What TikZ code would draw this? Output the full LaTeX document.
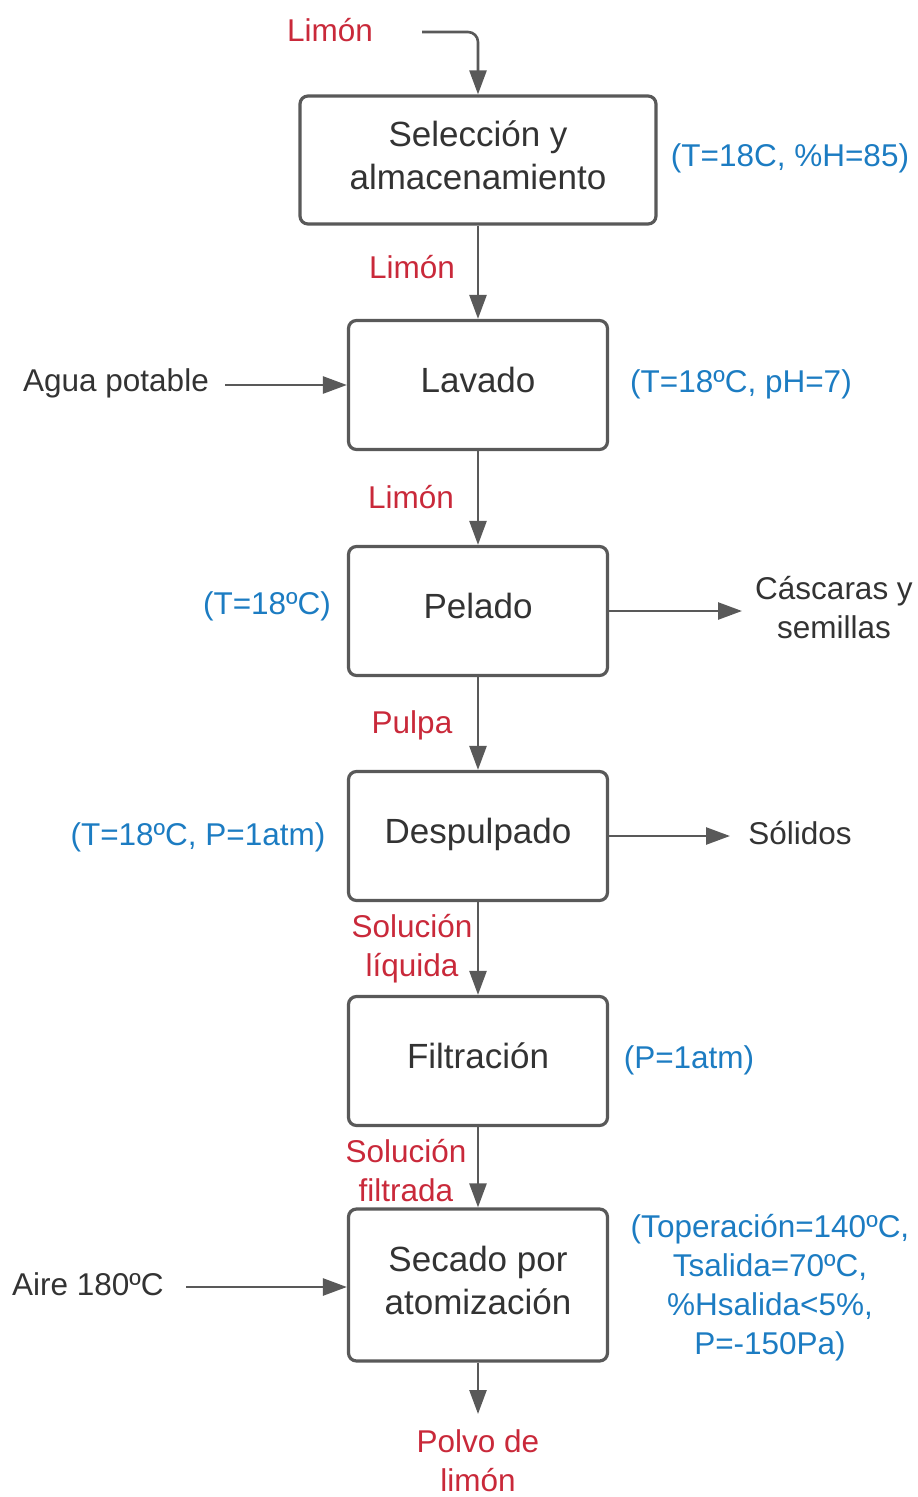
\documentclass[tikz,border=0pt]{standalone}
\usepackage{fontspec}
\setmainfont{Liberation Sans}
\usetikzlibrary{arrows.meta}
\definecolor{linegray}{HTML}{595959}
\definecolor{textgray}{HTML}{333333}
\definecolor{flowred}{HTML}{C9293A}
\definecolor{condblue}{HTML}{1C7CC2}
\begin{document}
\begin{tikzpicture}[x=1pt,y=-1pt,
  every node/.style={font=\fontsize{31.5}{39}\selectfont, inner sep=0pt, align=center},
  stage/.style={draw=linegray, line width=3.2pt, rounded corners=8pt, fill=white,
    minimum width=259pt, minimum height=129pt},
  stagetext/.style={text=textgray, font=\fontsize{35}{43}\selectfont, yshift=5pt},
  flow/.style={text=flowred, yshift=-3pt},
  cond/.style={text=condblue, yshift=-3pt},
  ext/.style={text=textgray, yshift=-3pt},
  conn/.style={draw=linegray, line width=2.6pt, -{Triangle[length=24pt,width=17pt]}}]
\useasboundingbox (0,0) rectangle (918,1497);
% process stages (box plus its caption, set slightly above centre)
\node[stage, minimum width=356pt, minimum height=128pt,
  label={[stagetext]center:Selección y\\almacenamiento}] (sel) at (478,160) {};
\node[stage, label={[stagetext]center:Lavado}] (lav) at (478,385) {};
\node[stage, label={[stagetext]center:Pelado}] (pel) at (478,611) {};
\node[stage, label={[stagetext, yshift=-3pt]center:Despulpado}] (des) at (478,836) {};
\node[stage, label={[stagetext]center:Filtración}] (fil) at (478,1061) {};
\node[stage, minimum height=152pt,
  label={[stagetext]center:Secado por\\atomización}] (sec) at (478,1285) {};
% inputs and outputs
\coordinate (in0) at (422,32);
\node[flow] (lim0) at (330,27) {Limón};
\node[ext] (agua) at (116,380) {Agua potable};
\coordinate (aguaend) at (225,385);
\node[ext] (cas) at (834,605) {Cáscaras y\\semillas};
\coordinate (casend) at (742,611);
\node[ext] (sol) at (800,830) {Sólidos};
\coordinate (solend) at (730,836);
\node[ext] (aire) at (88,1281) {Aire 180ºC};
\coordinate (aireend) at (186,1287);
\node[flow, yshift=5pt] (polvo) at (478,1463) {Polvo de\\limón};
\coordinate (polvoend) at (478,1414);
% stream labels
\node[flow] (l1) at (412,264) {Limón};
\node[flow] (l2) at (411,494) {Limón};
\node[flow] (l3) at (412,722) {Pulpa};
\node[flow] (l4) at (412,946) {Solución\\líquida};
\node[flow] (l5) at (406,1168) {Solución\\filtrada};
% operating conditions
\node[cond] (c1) at (790,155) {(T=18C, \%H=85)};
\node[cond] (c2) at (741,381) {(T=18ºC, pH=7)};
\node[cond] (c3) at (267,603) {(T=18ºC)};
\node[cond] (c4) at (198,834) {(T=18ºC, P=1atm)};
\node[cond] (c5) at (689,1057) {(P=1atm)};
\node[cond] (c6) at (770,1285) {(Toperación=140ºC,\\Tsalida=70ºC,\\\%Hsalida<5\%,\\P=-150Pa)};
% connectors
\draw[conn, rounded corners=10pt] (in0) -| (sel.north);
\draw[conn] (sel.south) -- (lav.north);
\draw[conn] (lav.south) -- (pel.north);
\draw[conn] (pel.south) -- (des.north);
\draw[conn] (des.south) -- (fil.north);
\draw[conn] (fil.south) -- (sec.north);
\draw[conn] (sec.south) -- (polvoend);
\draw[conn] (aguaend) -- (lav.west |- aguaend);
\draw[conn] (aireend) -- (sec.west |- aireend);
\draw[conn] (pel.east) -- (casend);
\draw[conn] (des.east) -- (solend);
\end{tikzpicture}
\end{document}
